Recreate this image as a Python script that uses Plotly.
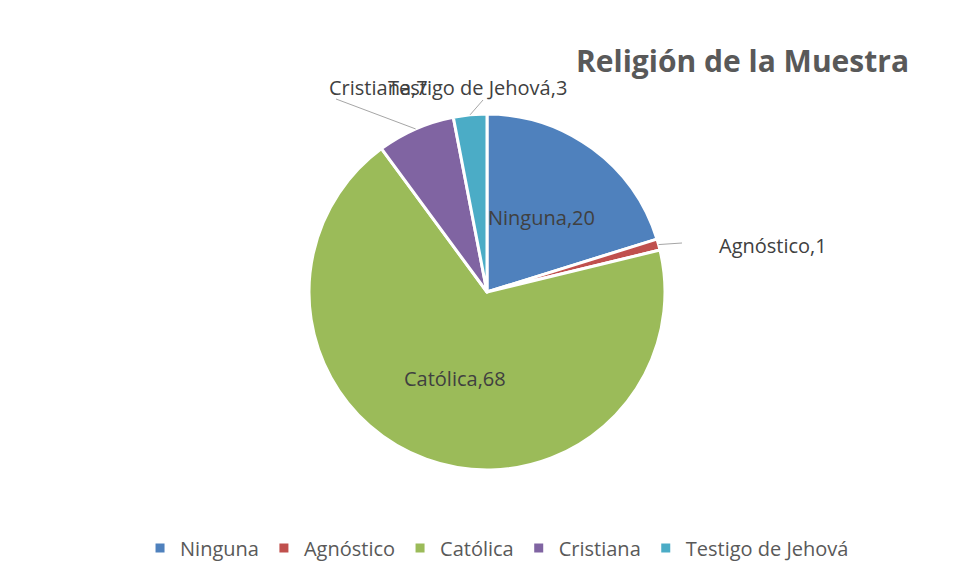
import math
import plotly.graph_objects as go

# Religion of the sample
labels = ["Ninguna", "Agnóstico", "Católica", "Cristiana", "Testigo de Jehová"]
values = [20, 1, 68, 7, 3]
colors = ["#4F81BD", "#C0504D", "#9BBB59", "#8064A2", "#4BACC6"]

W, H = 954, 579
CX, CY, R = 487, 292, 178  # pie centre and radius in pixels

def px(x):
    return x / W

def py(y):
    return 1 - y / H

fig = go.Figure(go.Pie(
    labels=labels,
    values=values,
    marker=dict(colors=colors, line=dict(color="white", width=3)),
    sort=False,
    direction="clockwise",
    rotation=0,
    textinfo="none",
    hoverinfo="label+value",
    domain=dict(x=[px(CX - R), px(CX + R)], y=[py(CY + R), py(CY - R)]),
))

# mid-angle of each slice (clockwise from 12 o'clock)
total = sum(values)
mids = []
acc = 0
for v in values:
    mids.append((acc + v / 2) / total * 2 * math.pi)
    acc += v

def on_pie(i, frac):
    a = mids[i]
    return CX + frac * R * math.sin(a), CY - frac * R * math.cos(a)

FONT = "Open Sans, Lato, sans-serif"
label_font = dict(family=FONT, size=20, color="#404040")
annotations = []
shapes = []

# labels drawn inside their slices
for i in (0, 2):
    x, y = on_pie(i, 0.52)
    annotations.append(dict(x=px(x), y=py(y), xref="paper", yref="paper",
                            text=f"{labels[i]},{values[i]}", showarrow=False,
                            font=label_font, xanchor="center", yanchor="middle"))

# labels outside with leader lines: (index, text x, text y, anchor, line end x, line end y)
outside = [
    (1, 717, 245, "left", 682, 243),
    (3, 327, 88, "left", 336, 99),
    (4, 386, 88, "left", 483, 100),
]
for i, tx, ty, anchor, lx, ly in outside:
    annotations.append(dict(x=px(tx), y=py(ty), xref="paper", yref="paper",
                            text=f"{labels[i]},{values[i]}", showarrow=False,
                            font=label_font, xanchor=anchor, yanchor="middle"))
    sx, sy = on_pie(i, 1.0)
    shapes.append(dict(type="line", xref="paper", yref="paper",
                       x0=px(sx), y0=py(sy), x1=px(lx), y1=py(ly),
                       line=dict(color="#A6A6A6", width=1)))

# title
annotations.append(dict(x=px(911), y=py(60), xref="paper", yref="paper",
                        text="<b>Religión de la Muestra</b>", showarrow=False,
                        font=dict(family=FONT, size=30, color="#595959"),
                        xanchor="right", yanchor="middle"))

fig.update_layout(
    width=W, height=H,
    margin=dict(l=0, r=0, t=0, b=0),
    paper_bgcolor="white",
    plot_bgcolor="white",
    showlegend=True,
    legend=dict(orientation="h", x=0.521, xanchor="center", y=py(548), yanchor="middle",
                font=dict(family=FONT, size=20, color="#595959"),
                itemwidth=30, traceorder="normal"),
    annotations=annotations,
    shapes=shapes,
)

fig.write_html("out.html")
